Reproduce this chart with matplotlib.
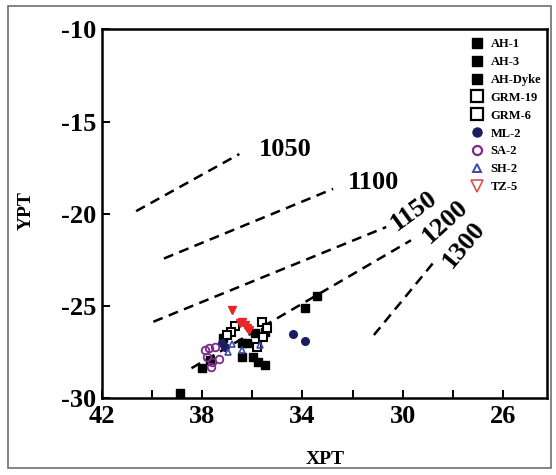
import matplotlib
matplotlib.use("Agg")
import matplotlib.pyplot as plt
from matplotlib.lines import Line2D
from matplotlib.patches import Rectangle

plt.rcParams["font.family"] = ["Liberation Serif", "DejaVu Serif"]
plt.rcParams["font.weight"] = "bold"
plt.rcParams["axes.unicode_minus"] = False

# samples (XPT, YPT)
ah1_x = [38.89, 38.02, 37.69, 37.16, 33.90, 33.43]
ah1_y = [-29.71, -28.39, -27.93, -26.76, -25.13, -24.46]
ah3_x = [36.43, 36.23, 35.90, 35.50]
ah3_y = [-27.03, -27.03, -26.48, -26.40]
ahd_x = [36.43, 35.96, 35.77, 35.50]
ahd_y = [-27.76, -27.76, -28.03, -28.21]
grm19_x = [36.70, 36.85, 37.00]
grm19_y = [-26.10, -26.40, -26.60]
grm6_x = [35.63, 35.43, 35.56, 35.83]
grm6_y = [-25.85, -26.21, -26.67, -27.25]
ml2_x = [34.37, 33.90, 37.09, 37.20]
ml2_y = [-26.52, -26.89, -27.21, -27.00]
sa2_x = [37.89, 37.75, 37.49, 37.83, 37.63, 37.32, 37.66]
sa2_y = [-27.39, -27.30, -27.25, -27.76, -28.03, -27.90, -28.30]
sh2_x = [36.96, 36.43, 35.70, 36.80]
sh2_y = [-27.48, -27.39, -27.12, -27.05]
tz5_x = [36.83, 36.49, 36.40, 36.23, 36.30, 36.15]
tz5_y = [-25.22, -25.94, -25.85, -26.21, -26.05, -26.30]

# isotherms: start / end points and labels
iso_labels = ["1050", "1100", "1150", "1200", "1300"]
iso_x = [(40.64, 36.52), (39.53, 32.78), (39.95, 30.66), (38.43, 29.67), (31.15, 28.75)]
iso_y = [(-19.86, -16.76), (-22.43, -18.65), (-25.86, -20.72), (-28.38, -21.44), (-26.58, -22.61)]
lab_x = [34.70, 31.18, 29.55, 28.31, 27.55]
lab_y = [-16.50, -18.30, -19.84, -20.44, -21.70]
lab_rot = [0, 0, 36, 42, 50]

fig = plt.figure(figsize=(5.56, 4.75), dpi=100)
fig.patches.append(Rectangle((0.014, 0.015), 0.977, 0.972, transform=fig.transFigure,
                             fill=False, edgecolor="#707070", linewidth=1.2))
ax = fig.add_axes([0.1835, 0.162, 0.800, 0.776])

for (x0, x1), (y0, y1) in zip(iso_x, iso_y):
    ax.plot([x0, x1], [y0, y1], color="black", lw=1.8, linestyle=(0, (4, 2.6)))
for t, x, y, r in zip(iso_labels, lab_x, lab_y, lab_rot):
    ax.text(x, y, t, fontsize=19, fontweight="bold", rotation=r,
            ha="center", va="center")

ax.plot(ah1_x, ah1_y, "s", color="black", ms=5.8)
ax.plot(ah3_x, ah3_y, "s", color="black", ms=5.8)
ax.plot(ahd_x, ahd_y, "s", color="black", ms=5.8)
ax.plot(grm19_x, grm19_y, "s", mfc="white", mec="black", mew=1.5, ms=6)
ax.plot(grm6_x, grm6_y, "s", mfc="white", mec="black", mew=1.5, ms=6)
ax.plot(ml2_x, ml2_y, "o", color="#1c1c60", ms=5.5)
ax.plot(sa2_x, sa2_y, "o", mfc="none", mec="#7a2a8a", mew=1.3, ms=5.5)
ax.plot(sh2_x, sh2_y, "^", mfc="none", mec="#3a4aa8", mew=1.2, ms=5)
ax.plot(tz5_x, tz5_y, "v", color="#e8262a", ms=5.5)

handles = [
    Line2D([], [], ls="", marker="s", color="black", ms=7),
    Line2D([], [], ls="", marker="s", color="black", ms=7),
    Line2D([], [], ls="", marker="s", color="black", ms=7),
    Line2D([], [], ls="", marker="s", mfc="white", mec="black", mew=1.6, ms=8.5),
    Line2D([], [], ls="", marker="s", mfc="white", mec="black", mew=1.6, ms=8.5),
    Line2D([], [], ls="", marker="o", color="#1c1c60", ms=6.5),
    Line2D([], [], ls="", marker="o", mfc="none", mec="#7a2a8a", mew=1.6, ms=6.5),
    Line2D([], [], ls="", marker="^", mfc="none", mec="#3a4aa8", mew=1.4, ms=5.5),
    Line2D([], [], ls="", marker="v", mfc="none", mec="#e05050", mew=1.2, ms=8),
]
names = ["AH-1", "AH-3", "AH-Dyke", "GRM-19", "GRM-6", "ML-2", "SA-2", "SH-2", "TZ-5"]
ax.legend(handles, names, loc="upper left", bbox_to_anchor=(0.815, 0.99),
          frameon=False, handlelength=1.2, handletextpad=0.5,
          labelspacing=0.47, borderaxespad=0, prop={"weight": "bold", "size": 9})

ax.set_xlim(42, 24.25)
ax.set_ylim(-30, -10)
ax.set_xticks([42, 38, 34, 30, 26])
ax.set_xticks([40, 36, 32, 28], minor=True)
ax.set_yticks([-10, -15, -20, -25, -30])
ax.tick_params(axis="both", which="both", direction="in", length=6, width=1.4,
               top=False, right=False, labelsize=19)
ax.tick_params(axis="x", pad=5)
ax.tick_params(axis="y", pad=4)
for lab in ax.get_xticklabels() + ax.get_yticklabels():
    lab.set_fontweight("bold")
for s in ax.spines.values():
    s.set_linewidth(1.8)

ax.set_xlabel("XPT", fontsize=14, fontweight="bold")
ax.set_ylabel("YPT", fontsize=14, fontweight="bold")
ax.xaxis.set_label_coords(0.501, -0.145)
ax.yaxis.set_label_coords(-0.152, 0.51)

fig.savefig("out.png", dpi=100)
